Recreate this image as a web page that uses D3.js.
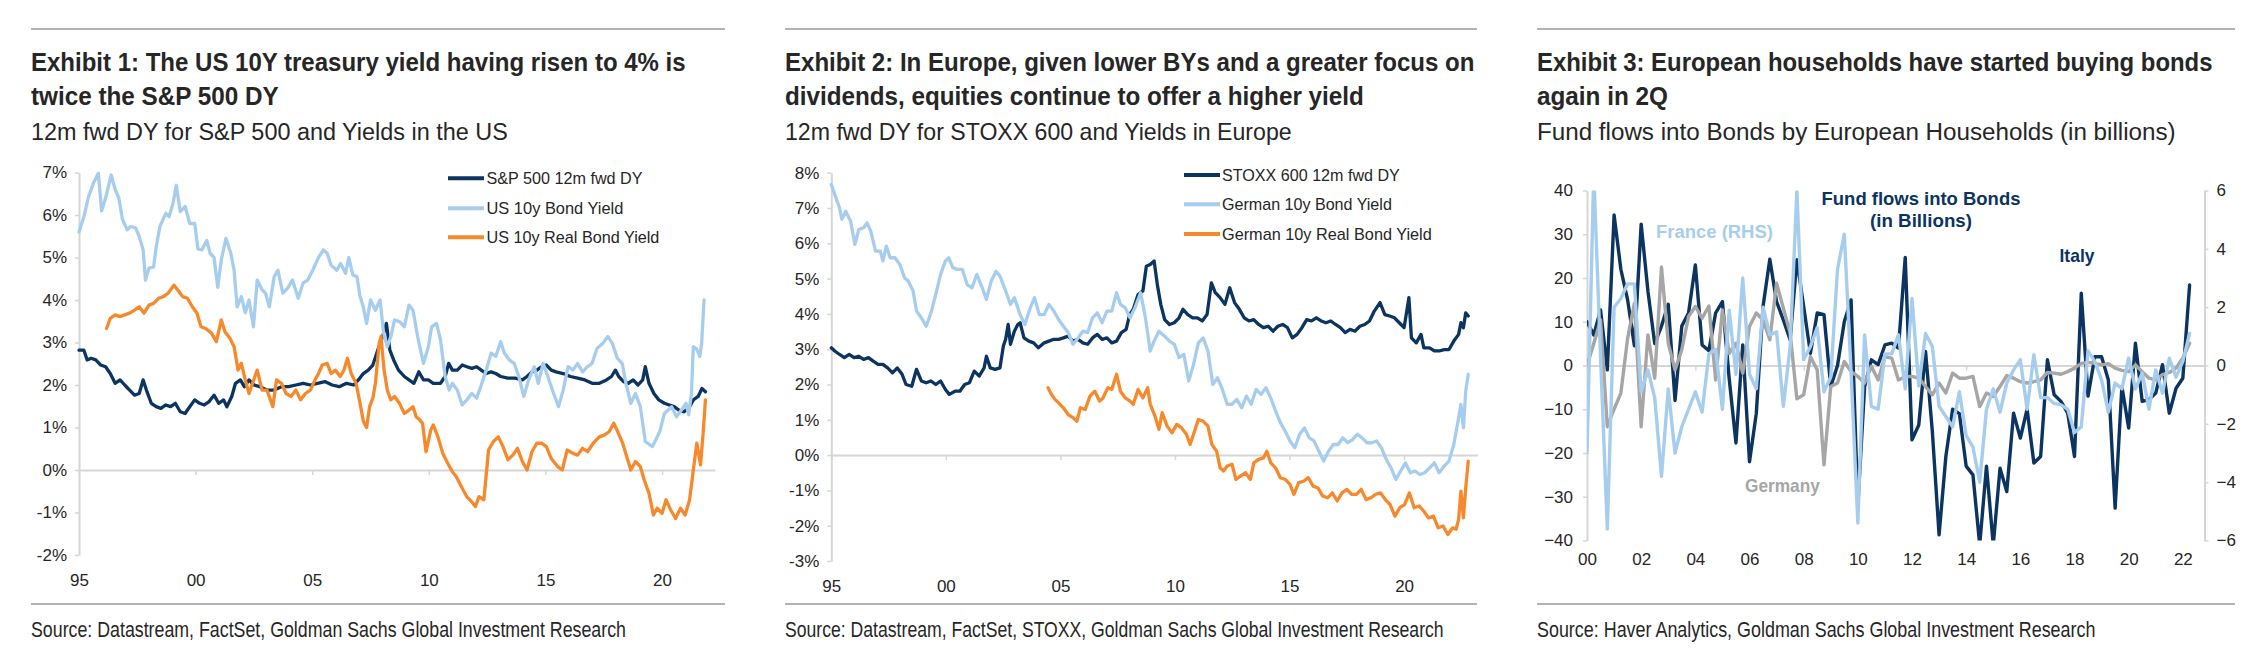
<!DOCTYPE html>
<html><head><meta charset="utf-8">
<script src="https://cdn.jsdelivr.net/npm/d3@7"></script>
<style>body{margin:0;background:#fff} svg{display:block}</style>
</head><body>
<svg id="c" width="2265" height="667"></svg>
<script>
// ---------------- DATA ----------------
// Exhibit 1 (decimal year, %)
const sp500DY = [[1995.00,2.82],[1995.21,2.82],[1995.35,2.59],[1995.52,2.63],[1995.72,2.59],[1995.93,2.47],[1996.14,2.43],[1996.34,2.27],[1996.55,2.04],[1996.76,2.12],[1996.96,2.0],[1997.17,1.88],[1997.38,1.76],[1997.58,1.8],[1997.75,2.12],[1997.89,1.88],[1998.10,1.57],[1998.31,1.49],[1998.51,1.45],[1998.72,1.53],[1998.93,1.49],[1999.13,1.57],[1999.34,1.37],[1999.55,1.33],[1999.75,1.49],[1999.96,1.65],[2000.17,1.57],[2000.37,1.53],[2000.58,1.61],[2000.79,1.76],[2000.99,1.57],[2001.20,1.65],[2001.34,1.49],[2001.55,1.73],[2001.71,2.04],[2001.92,2.12],[2002.09,1.96],[2002.29,2.12],[2002.50,2.0],[2002.75,1.96],[2003.06,1.88],[2003.37,1.88],[2003.68,1.96],[2003.99,1.96],[2004.30,2.0],[2004.61,2.04],[2004.92,2.0],[2005.23,2.04],[2005.54,2.08],[2005.85,2.0],[2006.16,1.96],[2006.47,2.04],[2006.78,2.0],[2006.98,2.12],[2007.19,2.27],[2007.40,2.35],[2007.60,2.47],[2007.81,2.82],[2008.02,3.14],[2008.18,3.45],[2008.33,2.82],[2008.49,2.59],[2008.70,2.35],[2008.95,2.2],[2009.15,2.12],[2009.36,2.04],[2009.57,2.31],[2009.77,2.12],[2009.98,2.12],[2010.19,2.04],[2010.50,2.04],[2010.70,2.2],[2010.85,2.51],[2011.01,2.35],[2011.22,2.35],[2011.43,2.47],[2011.63,2.43],[2011.84,2.39],[2012.05,2.43],[2012.25,2.35],[2012.46,2.27],[2012.67,2.31],[2012.87,2.27],[2013.08,2.2],[2013.39,2.16],[2013.70,2.16],[2014.01,2.12],[2014.21,2.2],[2014.42,2.31],[2014.63,2.35],[2014.83,2.43],[2015.04,2.47],[2015.25,2.35],[2015.45,2.31],[2015.76,2.27],[2016.07,2.2],[2016.38,2.16],[2016.69,2.12],[2017.00,2.04],[2017.31,2.04],[2017.62,2.12],[2017.83,2.2],[2018.00,2.35],[2018.14,2.2],[2018.35,2.08],[2018.55,2.04],[2018.76,2.12],[2018.97,2.0],[2019.17,2.12],[2019.28,2.43],[2019.44,2.04],[2019.65,1.8],[2019.86,1.65],[2020.10,1.57],[2020.31,1.53],[2020.52,1.49],[2020.72,1.41],[2020.93,1.37],[2021.14,1.45],[2021.34,1.65],[2021.55,1.73],[2021.71,1.92],[2021.86,1.84]];
const us10y = [[1995.00,5.6],[1995.21,5.96],[1995.41,6.43],[1995.62,6.75],[1995.83,6.98],[1995.97,6.1],[1996.14,6.4],[1996.38,6.94],[1996.55,6.6],[1996.71,6.4],[1996.86,5.9],[1997.07,5.65],[1997.21,5.73],[1997.42,5.7],[1997.58,5.5],[1997.75,5.18],[1997.85,4.47],[1998.00,4.75],[1998.20,4.78],[1998.31,5.25],[1998.47,5.73],[1998.72,6.04],[1998.86,5.96],[1999.03,6.27],[1999.17,6.7],[1999.34,6.08],[1999.55,6.2],[1999.75,5.8],[1999.96,5.8],[2000.10,5.2],[2000.27,5.18],[2000.48,5.4],[2000.62,5.1],[2000.79,5.0],[2000.95,4.3],[2001.10,4.94],[2001.30,5.45],[2001.51,5.1],[2001.65,4.7],[2001.78,3.84],[2001.96,4.08],[2002.13,3.7],[2002.29,4.0],[2002.48,3.37],[2002.64,4.47],[2002.85,4.24],[2003.00,4.16],[2003.16,3.84],[2003.37,4.55],[2003.53,4.7],[2003.74,4.16],[2003.93,4.27],[2004.15,4.47],[2004.40,4.04],[2004.61,4.4],[2004.81,4.47],[2005.02,4.7],[2005.27,5.0],[2005.48,5.18],[2005.64,5.1],[2005.81,4.82],[2006.05,4.7],[2006.22,4.86],[2006.43,4.63],[2006.57,5.0],[2006.74,4.59],[2006.92,4.55],[2007.05,4.08],[2007.19,3.84],[2007.33,3.45],[2007.50,4.0],[2007.71,3.76],[2007.91,4.0],[2008.06,3.22],[2008.22,2.9],[2008.37,3.14],[2008.53,3.53],[2008.74,3.49],[2008.95,3.37],[2009.15,3.88],[2009.32,3.76],[2009.52,3.14],[2009.77,2.51],[2009.98,2.9],[2010.12,3.37],[2010.33,3.45],[2010.50,3.06],[2010.70,2.2],[2010.87,1.88],[2011.01,2.04],[2011.22,1.88],[2011.43,1.53],[2011.63,1.65],[2011.84,1.8],[2012.05,1.69],[2012.25,2.0],[2012.46,2.35],[2012.67,2.75],[2012.87,2.67],[2013.08,3.02],[2013.24,2.75],[2013.45,2.59],[2013.66,2.51],[2013.86,2.2],[2014.07,1.73],[2014.28,2.12],[2014.52,2.43],[2014.69,2.04],[2014.90,2.51],[2015.10,2.2],[2015.35,1.8],[2015.56,1.49],[2015.76,1.88],[2015.97,2.43],[2016.18,2.35],[2016.38,2.51],[2016.59,2.31],[2016.80,2.43],[2017.00,2.51],[2017.21,2.86],[2017.46,2.98],[2017.67,3.14],[2017.87,2.98],[2018.08,2.63],[2018.29,2.51],[2018.45,2.04],[2018.66,1.57],[2018.86,1.8],[2019.07,1.49],[2019.28,0.67],[2019.59,0.55],[2019.90,0.9],[2020.10,1.33],[2020.41,1.49],[2020.62,1.25],[2020.83,1.41],[2021.03,1.57],[2021.14,1.3],[2021.26,1.8],[2021.34,2.9],[2021.48,2.85],[2021.62,2.67],[2021.70,3.0],[2021.80,4.0]];
const usReal = [[1996.18,3.33],[1996.34,3.57],[1996.55,3.65],[1996.76,3.61],[1996.96,3.65],[1997.17,3.69],[1997.38,3.76],[1997.58,3.84],[1997.79,3.69],[1998.00,3.88],[1998.20,3.92],[1998.41,4.04],[1998.62,4.08],[1998.82,4.16],[1999.07,4.35],[1999.28,4.2],[1999.44,4.08],[1999.65,4.04],[1999.86,3.84],[2000.06,3.69],[2000.23,3.37],[2000.43,3.33],[2000.68,3.22],[2000.89,3.02],[2001.10,3.53],[2001.26,3.25],[2001.47,3.1],[2001.65,2.9],[2001.82,2.35],[2001.96,2.51],[2002.13,2.12],[2002.29,1.8],[2002.44,2.04],[2002.64,2.35],[2002.85,1.88],[2003.06,1.88],[2003.31,1.49],[2003.47,2.12],[2003.68,2.04],[2003.88,1.8],[2004.09,1.73],[2004.30,1.88],[2004.50,1.65],[2004.71,1.8],[2004.92,1.88],[2005.12,2.12],[2005.27,2.27],[2005.43,2.47],[2005.64,2.51],[2005.81,2.27],[2005.99,2.35],[2006.20,2.2],[2006.36,2.35],[2006.51,2.63],[2006.67,2.27],[2006.88,2.04],[2007.05,1.57],[2007.19,1.15],[2007.33,1.0],[2007.46,1.49],[2007.60,1.69],[2007.71,2.04],[2007.87,2.98],[2007.95,3.14],[2008.08,2.35],[2008.22,1.88],[2008.37,1.65],[2008.53,1.73],[2008.74,1.57],[2008.95,1.33],[2009.15,1.41],[2009.32,1.49],[2009.46,1.25],[2009.61,1.18],[2009.73,1.1],[2009.88,0.43],[2010.08,0.94],[2010.19,1.06],[2010.39,0.78],[2010.60,0.39],[2010.81,0.16],[2011.01,-0.04],[2011.18,-0.16],[2011.32,-0.31],[2011.47,-0.47],[2011.63,-0.63],[2011.84,-0.75],[2012.00,-0.86],[2012.15,-0.63],[2012.36,-0.7],[2012.56,0.47],[2012.77,0.67],[2012.98,0.78],[2013.18,0.55],[2013.39,0.24],[2013.60,0.35],[2013.80,0.51],[2014.01,0.2],[2014.21,0.0],[2014.42,0.43],[2014.63,0.63],[2014.83,0.63],[2015.04,0.55],[2015.25,0.27],[2015.52,0.08],[2015.72,0.0],[2015.93,0.47],[2016.18,0.39],[2016.38,0.35],[2016.59,0.51],[2016.80,0.43],[2017.05,0.63],[2017.31,0.78],[2017.52,0.82],[2017.73,0.9],[2017.93,1.1],[2018.10,0.9],[2018.31,0.63],[2018.51,0.27],[2018.66,0.0],[2018.86,0.2],[2019.07,0.08],[2019.24,-0.24],[2019.44,-0.55],[2019.63,-1.06],[2019.79,-0.9],[2020.00,-1.02],[2020.17,-0.7],[2020.37,-0.94],[2020.58,-1.14],[2020.79,-0.9],[2020.99,-1.06],[2021.18,-0.7],[2021.34,0.0],[2021.49,0.63],[2021.65,0.12],[2021.76,0.86],[2021.86,1.65]];

// Exhibit 2 (decimal year, %)
const stoxxDY = [[1995.00,3.04],[1995.15,2.95],[1995.36,2.85],[1995.57,2.76],[1995.78,2.85],[1995.99,2.76],[1996.20,2.8],[1996.41,2.71],[1996.62,2.76],[1996.83,2.66],[1997.04,2.57],[1997.25,2.57],[1997.46,2.47],[1997.67,2.33],[1997.88,2.47],[1998.09,2.29],[1998.26,2.0],[1998.51,1.95],[1998.72,2.43],[1998.93,2.1],[1999.14,2.05],[1999.35,2.1],[1999.56,2.0],[1999.77,2.1],[1999.98,1.86],[2000.15,1.72],[2000.40,1.81],[2000.61,1.81],[2000.82,2.0],[2001.03,2.05],[2001.24,2.38],[2001.46,2.24],[2001.67,2.47],[2001.77,2.8],[2001.94,2.47],[2002.15,2.43],[2002.36,2.47],[2002.51,3.09],[2002.61,3.28],[2002.72,3.7],[2002.82,3.14],[2002.99,3.51],[2003.14,3.7],[2003.24,3.75],[2003.41,3.32],[2003.62,3.23],[2003.83,3.18],[2004.04,3.04],[2004.29,3.18],[2004.50,3.23],[2004.71,3.28],[2004.92,3.28],[2005.13,3.32],[2005.34,3.37],[2005.55,3.23],[2005.77,3.28],[2005.98,3.18],[2006.19,3.14],[2006.40,3.32],[2006.61,3.42],[2006.82,3.28],[2007.03,3.32],[2007.24,3.18],[2007.45,3.23],[2007.66,3.47],[2007.87,3.56],[2008.02,3.98],[2008.18,4.13],[2008.39,4.55],[2008.60,4.65],[2008.75,5.35],[2008.92,5.4],[2009.09,5.5],[2009.23,4.83],[2009.38,4.27],[2009.55,3.84],[2009.76,3.7],[2009.97,3.75],[2010.18,3.89],[2010.35,4.13],[2010.56,3.98],[2010.77,3.89],[2010.98,3.89],[2011.19,3.8],[2011.40,3.98],[2011.59,4.88],[2011.76,4.6],[2011.97,4.46],[2012.18,4.27],[2012.39,4.74],[2012.60,4.32],[2012.81,4.13],[2013.02,3.89],[2013.23,3.8],[2013.44,3.84],[2013.65,3.7],[2013.86,3.61],[2014.07,3.65],[2014.28,3.51],[2014.49,3.65],[2014.70,3.7],[2014.91,3.61],[2015.12,3.32],[2015.33,3.42],[2015.54,3.61],[2015.75,3.84],[2015.96,3.8],[2016.17,3.89],[2016.38,3.8],[2016.59,3.75],[2016.80,3.8],[2017.01,3.7],[2017.22,3.61],[2017.43,3.47],[2017.64,3.56],[2017.86,3.51],[2018.07,3.65],[2018.28,3.7],[2018.49,3.8],[2018.70,4.08],[2018.95,4.32],[2019.16,3.98],[2019.37,3.94],[2019.58,3.89],[2019.79,3.75],[2020.00,3.61],[2020.21,4.46],[2020.32,3.32],[2020.53,3.18],[2020.74,3.42],[2020.86,3.04],[2021.11,3.04],[2021.32,2.95],[2021.53,2.95],[2021.75,2.99],[2021.96,2.99],[2022.17,3.23],[2022.38,3.42],[2022.48,3.75],[2022.59,3.61],[2022.69,4.03],[2022.80,3.94]];
const de10y = [[1995.00,7.67],[1995.15,7.38],[1995.36,7.0],[1995.46,6.68],[1995.63,6.91],[1995.84,6.63],[1996.03,5.97],[1996.20,6.39],[1996.41,6.44],[1996.56,6.58],[1996.72,6.35],[1996.93,5.78],[1997.14,5.78],[1997.25,5.5],[1997.40,5.92],[1997.57,5.59],[1997.78,5.59],[1997.99,5.4],[1998.20,5.02],[1998.36,4.93],[1998.57,4.65],[1998.72,4.08],[1998.93,3.89],[1999.14,3.65],[1999.35,4.03],[1999.56,4.55],[1999.77,5.12],[1999.98,5.5],[2000.13,5.59],[2000.30,5.31],[2000.51,5.26],[2000.72,5.26],[2000.93,4.83],[2001.14,4.74],[2001.35,5.12],[2001.56,4.79],[2001.77,4.41],[2001.98,4.93],[2002.19,5.21],[2002.36,5.07],[2002.61,4.65],[2002.82,4.27],[2002.99,4.46],[2003.24,3.98],[2003.45,3.7],[2003.66,4.13],[2003.87,4.46],[2004.08,3.98],[2004.29,3.98],[2004.50,4.27],[2004.71,4.08],[2004.92,3.84],[2005.13,3.65],[2005.34,3.47],[2005.55,3.14],[2005.77,3.32],[2005.98,3.51],[2006.19,3.47],[2006.40,3.89],[2006.61,4.03],[2006.82,3.75],[2007.03,4.08],[2007.24,4.08],[2007.45,4.6],[2007.62,4.27],[2007.83,4.17],[2008.04,3.89],[2008.25,4.17],[2008.50,4.6],[2008.71,3.89],[2008.92,2.95],[2009.09,3.23],[2009.30,3.51],[2009.55,3.37],[2009.76,3.23],[2009.97,3.14],[2010.18,2.76],[2010.39,2.85],[2010.60,2.1],[2010.81,2.57],[2011.02,3.18],[2011.23,3.32],[2011.44,2.95],[2011.65,2.0],[2011.86,2.19],[2012.07,1.86],[2012.28,1.44],[2012.49,1.44],[2012.70,1.58],[2012.91,1.34],[2013.12,1.67],[2013.33,1.44],[2013.54,1.86],[2013.76,1.72],[2013.97,1.91],[2014.18,1.62],[2014.39,1.25],[2014.60,0.92],[2014.81,0.68],[2015.02,0.4],[2015.23,0.21],[2015.44,0.59],[2015.65,0.77],[2015.86,0.49],[2016.07,0.4],[2016.28,0.11],[2016.49,-0.17],[2016.70,0.11],[2016.91,0.3],[2017.12,0.3],[2017.33,0.49],[2017.54,0.35],[2017.75,0.44],[2017.96,0.59],[2018.17,0.49],[2018.38,0.35],[2018.59,0.35],[2018.80,0.4],[2019.01,0.21],[2019.22,-0.12],[2019.43,-0.36],[2019.64,-0.69],[2019.85,-0.45],[2020.06,-0.22],[2020.27,-0.5],[2020.48,-0.45],[2020.69,-0.55],[2020.90,-0.5],[2021.11,-0.36],[2021.32,-0.22],[2021.53,-0.5],[2021.75,-0.31],[2021.96,-0.17],[2022.17,0.3],[2022.38,1.06],[2022.48,1.44],[2022.59,0.77],[2022.69,1.81],[2022.80,2.29]];
const deReal = [[2004.46,1.91],[2004.61,1.72],[2004.76,1.58],[2004.92,1.48],[2005.13,1.34],[2005.34,1.15],[2005.55,1.06],[2005.72,0.96],[2005.87,1.34],[2006.08,1.29],[2006.29,1.67],[2006.50,1.81],[2006.71,1.53],[2006.86,1.62],[2007.07,1.91],[2007.24,1.86],[2007.45,2.29],[2007.62,1.81],[2007.83,1.62],[2008.04,1.53],[2008.18,1.44],[2008.39,1.86],[2008.60,1.62],[2008.81,1.91],[2008.92,1.44],[2009.13,1.1],[2009.30,0.73],[2009.44,1.2],[2009.66,0.82],[2009.87,0.63],[2010.08,0.87],[2010.29,0.77],[2010.50,0.59],[2010.66,0.3],[2010.81,0.59],[2011.02,1.01],[2011.23,0.96],[2011.44,0.82],[2011.61,0.3],[2011.82,0.11],[2011.97,-0.36],[2012.12,-0.45],[2012.28,-0.31],[2012.49,-0.26],[2012.66,-0.69],[2012.87,-0.59],[2013.08,-0.5],[2013.29,-0.69],[2013.44,-0.22],[2013.65,-0.12],[2013.86,-0.08],[2014.01,0.11],[2014.18,-0.22],[2014.39,-0.36],[2014.60,-0.64],[2014.81,-0.69],[2015.02,-0.83],[2015.19,-1.11],[2015.40,-0.78],[2015.61,-0.74],[2015.82,-0.64],[2016.03,-0.88],[2016.24,-0.93],[2016.45,-1.16],[2016.66,-1.21],[2016.87,-1.07],[2017.08,-1.3],[2017.29,-1.07],[2017.50,-0.97],[2017.71,-1.11],[2017.92,-1.11],[2018.13,-0.97],[2018.34,-1.26],[2018.55,-1.21],[2018.76,-1.11],[2018.97,-1.07],[2019.18,-1.26],[2019.39,-1.4],[2019.60,-1.73],[2019.81,-1.49],[2020.02,-1.4],[2020.23,-1.07],[2020.44,-1.49],[2020.65,-1.44],[2020.86,-1.59],[2021.07,-1.78],[2021.28,-1.73],[2021.49,-2.06],[2021.70,-2.01],[2021.91,-2.25],[2022.12,-2.06],[2022.27,-2.1],[2022.38,-1.82],[2022.48,-1.02],[2022.59,-1.78],[2022.69,-0.93],[2022.80,-0.17]];

// Exhibit 3 (quarterly from 2000Q1, billions)
const italyFlows = [10,7,12.7,-1,34.4,22,15,4.5,32.3,17, 5,9,14,-8,9,12,23,4.7,3.4,12, 14.6,-3,-17.7,4.7,-22,-11,13.5,24.3,14.6,10.4, 5.9,24.2,13.5,2.8,12,11.6,-4.8,0,10,15, -32,-4.8,1.3,0.2,4.7,5.1,4,24.7,-17,-13.6, 3.2,-15,-38.7,-20.8,-10,-11,-23,-25,-41,-23, -41,-23.5,-28.8,-10.9,-16.6,-10,-22.3,-20.8,1.3,-6.7, -8.2,-10.9,-20.8,16.5,-7,2,2,-3.3,-32.6,-4.8, -14.3,5.1,-8.2,-7.8,-6.3,0.2,-10.9,-5.2,-2.9,18.4];
const germanyFlows = [0,5,10.4,-14,-10,-6.3,6.2,14.2,-14,7, -2.9,22.5,5.1,-1,3.6,11.2,13.5,10.8,13.6,-3.3, 12.7,2.8,5.1,-1.75,8.9,12,10.4,5.9,18.8,13.1, 7.4,-7.6,-6.7,2,-1,-22.7,-4.8,-4,0.9,-1.4, -2.5,-4,-0.2,-3.3,2,1.7,-3.3,-2.5,-2.5,-2.9, -4.8,-6.7,-4,-6.3,-1.75,-2.9,-2.9,-2.5,-9.4,-6.3, -7.1,-4.8,-2.3,-2.9,-3.7,-4,-3.7,-3.3,-1.6,-1.75, -2,-1.4,-0.6,0.5,0.7,0.5,0.15,0.4,-0.6,-1.1, -1.4,0.15,-1.4,-2.9,-3.3,-2.1,-1.6,-0.6,1.7,5.1];
const franceFlows = [-3.0,6.6,0.3,-5.6,2.0,2.3,2.8,2.8,-0.9,-0.15, -1.1,-3.8,-0.8,-3.0,-2.1,-1.5,-0.9,-1.6,0.4,0.55, -1.5,1.9,-0.3,3.0,-0.3,-0.8,2.0,1.05,1.15,-1.4, 0.65,6.0,0.2,0.65,1.3,-0.9,-0.4,3.3,4.5,-0.2, -5.4,1.05,-1.4,-1.5,0.4,0.4,1.05,-0.8,2.3,-0.7, 1.1,0.65,-1.4,-1.75,-2.1,-0.9,-2.4,-2.8,-4.0,-1.5, -0.8,-1.6,-0.6,-0.15,0.2,-1.5,0.37,-1.1,-1.1,-1.3, -1.35,-1.5,-2.3,-2.1,0.5,0.14,-0.5,-1.6,-0.6,-0.8, 0.25,-0.8,-0.26,-1.5,-0.15,-0.95,0.25,-0.4,0.14,1.1];
const quarters = italyFlows.map((_, i) => 2000 + i / 4);

// Tick labels
const ticks1Y = [-2,-1,0,1,2,3,4,5,6,7];
const ticks2Y = [-3,-2,-1,0,1,2,3,4,5,6,7,8];
const ticks3L = [-40,-30,-20,-10,0,10,20,30,40];
const ticks3R = [-6,-4,-2,0,2,4,6];
const ticks12X = [1995,2000,2005,2010,2015,2020];
const ticks3X = [2000,2002,2004,2006,2008,2010,2012,2014,2016,2018,2020,2022];

// Texts
const titles1 = ["Exhibit 1: The US 10Y treasury yield having risen to 4% is", "twice the S&P 500 DY"];
const titles2 = ["Exhibit 2: In Europe, given lower BYs and a greater focus on", "dividends, equities continue to offer a higher yield"];
const titles3 = ["Exhibit 3: European households have started buying bonds", "again in 2Q"];
const subtitles = ["12m fwd DY for S&P 500 and Yields in the US", "12m fwd DY for STOXX 600 and Yields in Europe", "Fund flows into Bonds by European Households (in billions)"];
const sources = ["Source: Datastream, FactSet, Goldman Sachs Global Investment Research", "Source: Datastream, FactSet, STOXX, Goldman Sachs Global Investment Research", "Source: Haver Analytics, Goldman Sachs Global Investment Research"];
const legend1 = ["S&P 500 12m fwd DY", "US 10y Bond Yield", "US 10y Real Bond Yield"];
const legend2 = ["STOXX 600 12m fwd DY", "German 10y Bond Yield", "German 10y Real Bond Yield"];

// ---------------- DRAW ----------------
const FONT = "'Liberation Sans', Arial, Helvetica, sans-serif";
const C = {navy:'#0b3461', light:'#a7cdee', orange:'#f5892c', gray:'#a6a6a6', text:'#262626', axis:'#d6d6d6', rule:'#9a9a9a'};
const svg = d3.select('#c');

// text fitted to a target width by a horizontal scale (condensed look)
function txt(x, y, s, o) {
  const t = svg.append('text').attr('x', 0).attr('y', 0).text(s)
    .attr('font-family', FONT).attr('font-size', o.size)
    .attr('font-weight', o.bold ? 'bold' : 'normal')
    .attr('fill', o.fill || C.text).attr('text-anchor', o.anchor || 'start');
  let sx = 1;
  if (o.w) { const n = t.node().getComputedTextLength(); if (n > 0) sx = o.w / n; }
  t.attr('transform', `translate(${x},${y}) scale(${sx},1)`);
  return t;
}
function hline(x0, x1, y, color, w) {
  svg.append('line').attr('x1', x0).attr('x2', x1).attr('y1', y).attr('y2', y).attr('stroke', color).attr('stroke-width', w);
}
function drawLine(g, data, xf, yf, color, w) {
  g.append('path').datum(data)
    .attr('d', d3.line().x(xf).y(yf))
    .attr('fill', 'none').attr('stroke', color).attr('stroke-width', w)
    .attr('stroke-linejoin', 'round').attr('stroke-linecap', 'round');
}
function header(x0, x1, t, wt1, wt2, sub, wsub, src, wsrc) {
  hline(x0, x1, 29, C.rule, 1.5);
  txt(x0, 71, t[0], {size: 25, bold: true, w: wt1});
  txt(x0, 105, t[1], {size: 25, bold: true, w: wt2});
  txt(x0, 139.5, sub, {size: 23, w: wsub});
  hline(x0, x1, 604, C.rule, 1.5);
  txt(x0, 637, src, {size: 22, w: wsrc});
}
function styleAxis(g, color) {
  g.selectAll('path.domain').attr('stroke', color).attr('stroke-width', 2);
  g.selectAll('.tick line').attr('stroke', color).attr('stroke-width', 1.5);
  g.selectAll('.tick text').attr('font-family', FONT).attr('font-size', 17).attr('fill', C.text);
}
function zeroAxis(x, y0, ticks) {
  const g = svg.append('g').attr('transform', `translate(0,${y0})`)
    .call(d3.axisBottom(x).tickValues(ticks).tickSize(5).tickSizeOuter(0));
  styleAxis(g, C.axis);
  g.selectAll('.tick text').remove();
}
function labelAxis(x, yb, ticks, pad) {
  const g = svg.append('g').attr('transform', `translate(0,${yb})`)
    .call(d3.axisBottom(x).tickValues(ticks).tickFormat(d => String(d).slice(2)).tickSize(0).tickPadding(pad));
  styleAxis(g, C.axis);
  g.select('path.domain').remove();
  g.selectAll('.tick line').remove();
}

header(31, 725, titles1, 655, 248, subtitles[0], 477, sources[0], 595);
header(785, 1477, titles2, 690, 579, subtitles[1], 507, sources[1], 659);
header(1537, 2235, titles3, 676, 131, subtitles[2], 639, sources[2], 559);

// ----- Exhibit 1 -----
{
  const x = d3.scaleLinear().domain([1995, 2022.27]).range([79, 715]);
  const y = d3.scaleLinear().domain([-2, 7]).range([555, 172.5]);
  const ga = svg.append('g').attr('transform', `translate(${x(1995)},0)`)
    .call(d3.axisLeft(y).tickValues(ticks1Y).tickFormat(d => d + '%').tickSize(4).tickSizeOuter(0).tickPadding(8));
  styleAxis(ga, C.axis);
  zeroAxis(x, y(0), ticks12X);
  labelAxis(x, y(-2), ticks12X, 19);
  const g = svg.append('g');
  drawLine(g, sp500DY, d => x(d[0]), d => y(d[1]), C.navy, 3.3);
  drawLine(g, us10y, d => x(d[0]), d => y(d[1]), C.light, 3.3);
  drawLine(g, usReal, d => x(d[0]), d => y(d[1]), C.orange, 3.3);
  const cols = [C.navy, C.light, C.orange], rows = [178.3, 208.3, 237.3], lw = [156, 137, 173];
  legend1.forEach((s, i) => {
    hline(448, 484, rows[i], cols[i], 4);
    txt(486.5, rows[i] + 5.8, s, {size: 16, w: lw[i]});
  });
}

// ----- Exhibit 2 -----
{
  const x = d3.scaleLinear().domain([1995, 2023.2]).range([831.3, 1477.4]);
  const y = d3.scaleLinear().domain([-3, 8]).range([561, 172.7]);
  const ga = svg.append('g').attr('transform', `translate(${x(1995)},0)`)
    .call(d3.axisLeft(y).tickValues(ticks2Y).tickFormat(d => d + '%').tickSize(4).tickSizeOuter(0).tickPadding(8));
  styleAxis(ga, C.axis);
  zeroAxis(x, y(0), ticks12X);
  labelAxis(x, y(-3), ticks12X, 19);
  const g = svg.append('g');
  drawLine(g, stoxxDY, d => x(d[0]), d => y(d[1]), C.navy, 3.3);
  drawLine(g, de10y, d => x(d[0]), d => y(d[1]), C.light, 3.3);
  drawLine(g, deReal, d => x(d[0]), d => y(d[1]), C.orange, 3.3);
  const cols = [C.navy, C.light, C.orange], rows = [175, 204.3, 234], lw = [178, 170, 210];
  legend2.forEach((s, i) => {
    hline(1184, 1220, rows[i], cols[i], 4);
    txt(1222, rows[i] + 5.8, s, {size: 16, w: lw[i]});
  });
}

// ----- Exhibit 3 -----
{
  const x = d3.scaleLinear().domain([2000, 2022.8]).range([1587, 2204.5]);
  const yL = d3.scaleLinear().domain([-40, 40]).range([540.5, 190.5]);
  const yR = d3.scaleLinear().domain([-6, 6]).range([540.5, 190.5]);
  const ga = svg.append('g').attr('transform', `translate(${x(2000)},0)`)
    .call(d3.axisLeft(yL).tickValues(ticks3L).tickSize(4).tickSizeOuter(0).tickPadding(10));
  styleAxis(ga, C.axis);
  const gr = svg.append('g').attr('transform', `translate(${x.range()[1]},0)`)
    .call(d3.axisRight(yR).tickValues(ticks3R).tickSize(4).tickSizeOuter(0).tickPadding(8));
  styleAxis(gr, C.axis);
  zeroAxis(x, yL(0), ticks3X);
  labelAxis(x, yL(-40), ticks3X, 12);

  svg.append('clipPath').attr('id', 'clip3').append('rect')
    .attr('x', x(2000)).attr('y', yL(40)).attr('width', x.range()[1] - x(2000)).attr('height', yL(-40) - yL(40));

  // annotations (drawn under the lines)
  txt(1921, 205, 'Fund flows into Bonds', {size: 18.5, bold: true, fill: C.navy, anchor: 'middle', w: 199});
  txt(1921, 226.7, '(in Billions)', {size: 18.5, bold: true, fill: C.navy, anchor: 'middle', w: 102});
  txt(1656, 238.3, 'France (RHS)', {size: 18, bold: true, fill: C.light, w: 117});
  txt(2059.5, 261.7, 'Italy', {size: 18.5, bold: true, fill: C.navy, w: 35});
  txt(1745, 491.7, 'Germany', {size: 17.5, bold: true, fill: C.gray, w: 75});

  const g = svg.append('g').attr('clip-path', 'url(#clip3)');
  drawLine(g, italyFlows, (d, i) => x(quarters[i]), d => yL(d), C.navy, 3.4);
  drawLine(g, germanyFlows, (d, i) => x(quarters[i]), d => yL(d), C.gray, 3.4);
  drawLine(g, franceFlows, (d, i) => x(quarters[i]), d => yR(d), C.light, 3.4);
}
</script>
</body></html>
